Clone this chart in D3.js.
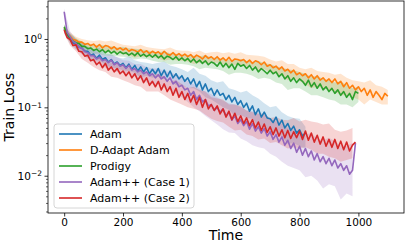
<!DOCTYPE html>
<html>
<head>
<meta charset="utf-8">
<script src="https://cdn.jsdelivr.net/npm/d3@7"></script>
<style>
  body { margin: 0; background: #fff; }
  text { font-family: "DejaVu Sans", sans-serif; fill: #000; }
</style>
</head>
<body>
<div id="chart"></div>
<script>
// sample spacing of each run (time units)
const step = 10;
const bandStep = 20;

const seriesNames = ["Adam", "D-Adapt Adam", "Prodigy", "Adam++ (Case 1)", "Adam++ (Case 2)"];
const colors = ["#1f77b4", "#ff7f0e", "#2ca02c", "#9467bd", "#d62728"];
const xTicks = [0, 200, 400, 600, 800, 1000];
const yTicks = [1e-2, 1e-1, 1];

// mean train loss, one value every 10 time units
const adam = [
  1.4,1.15,1.0,0.88,0.84,0.76,0.74,0.66,0.66,0.58,0.6,
  0.52,0.58,0.5,0.53,0.46,0.5,0.43,0.46,0.41,0.44,
  0.38,0.43,0.36,0.41,0.34,0.39,0.33,0.38,0.31,0.36,
  0.31,0.37,0.29,0.35,0.28,0.34,0.27,0.31,0.26,0.29,
  0.24,0.27,0.22,0.26,0.2,0.24,0.18,0.22,0.17,0.19,
  0.15,0.18,0.15,0.16,0.13,0.15,0.12,0.14,0.11,0.125,
  0.1,0.115,0.088,0.105,0.078,0.095,0.072,0.085,0.07,0.068,
  0.06,0.072,0.055,0.065,0.05,0.058,0.046,0.053,0.042,0.047,
  0.038,0.042
];
const dAdapt = [
  1.45,1.2,1.1,0.98,0.96,0.9,0.9,0.83,0.86,0.8,0.84,
  0.76,0.83,0.74,0.8,0.78,0.72,0.77,0.7,0.74,0.69,
  0.73,0.66,0.7,0.68,0.64,0.7,0.63,0.67,0.61,0.66,
  0.62,0.65,0.59,0.66,0.6,0.58,0.63,0.57,0.61,0.56,
  0.6,0.55,0.59,0.53,0.58,0.55,0.51,0.57,0.52,0.55,
  0.5,0.55,0.49,0.53,0.48,0.54,0.47,0.51,0.5,0.48,
  0.5,0.45,0.49,0.44,0.48,0.46,0.42,0.46,0.4,0.42,
  0.38,0.4,0.36,0.39,0.34,0.36,0.32,0.35,0.3,0.32,
  0.29,0.31,0.27,0.3,0.26,0.29,0.25,0.27,0.24,0.26,
  0.23,0.26,0.22,0.24,0.2,0.23,0.19,0.21,0.18,0.2,
  0.17,0.19,0.15,0.18,0.14,0.17,0.15,0.13,0.16,0.145
];
const prodigy = [
  1.5,1.18,1.04,0.93,0.88,0.86,0.78,0.78,0.72,0.74,0.68,
  0.71,0.65,0.7,0.63,0.68,0.62,0.66,0.6,0.65,0.61,
  0.63,0.58,0.62,0.57,0.63,0.56,0.6,0.55,0.59,0.54,
  0.59,0.53,0.57,0.51,0.56,0.54,0.5,0.55,0.49,0.53,
  0.48,0.52,0.46,0.51,0.45,0.49,0.44,0.48,0.42,0.46,
  0.44,0.4,0.46,0.39,0.44,0.38,0.43,0.36,0.44,0.4,
  0.42,0.37,0.41,0.35,0.39,0.33,0.37,0.34,0.31,0.35,
  0.31,0.33,0.28,0.31,0.26,0.29,0.24,0.27,0.23,0.26,
  0.24,0.21,0.25,0.2,0.23,0.19,0.22,0.18,0.2,0.17,
  0.19,0.16,0.18,0.15,0.17,0.14,0.16,0.13,0.17,0.16
];
const case1 = [
  2.5,1.25,1.08,0.92,0.86,0.76,0.73,0.65,0.63,0.57,0.57,
  0.51,0.54,0.48,0.5,0.45,0.49,0.42,0.45,0.4,0.42,
  0.37,0.41,0.35,0.37,0.33,0.35,0.31,0.33,0.29,0.31,
  0.27,0.3,0.26,0.28,0.24,0.27,0.22,0.24,0.2,0.21,
  0.18,0.19,0.15,0.17,0.13,0.15,0.12,0.13,0.105,0.11,
  0.09,0.1,0.085,0.095,0.075,0.085,0.065,0.075,0.058,0.066,
  0.054,0.062,0.048,0.058,0.045,0.052,0.042,0.049,0.038,0.044,
  0.034,0.04,0.031,0.037,0.028,0.033,0.025,0.03,0.022,0.027,
  0.02,0.025,0.019,0.023,0.017,0.021,0.016,0.019,0.015,0.018,
  0.014,0.017,0.013,0.015,0.012,0.014,0.0105,0.012,0.03
];
const case2 = [
  1.35,1.05,0.98,0.8,0.82,0.66,0.65,0.56,0.58,0.48,0.5,
  0.42,0.46,0.38,0.44,0.35,0.39,0.33,0.37,0.31,0.34,
  0.29,0.33,0.27,0.31,0.25,0.29,0.23,0.27,0.21,0.24,
  0.2,0.24,0.18,0.22,0.17,0.2,0.15,0.19,0.14,0.17,
  0.13,0.16,0.12,0.15,0.11,0.14,0.1,0.13,0.095,0.11,
  0.09,0.105,0.08,0.095,0.072,0.088,0.066,0.082,0.062,0.075,
  0.058,0.07,0.054,0.066,0.05,0.061,0.046,0.057,0.043,0.052,
  0.04,0.05,0.038,0.047,0.036,0.046,0.035,0.044,0.036,0.045,
  0.034,0.045,0.033,0.042,0.031,0.039,0.029,0.037,0.027,0.034,
  0.026,0.034,0.025,0.032,0.024,0.031,0.023,0.028,0.031
];

// shaded spread (low / high), one value every 20 time units
const adamLo = [1.2,0.85,0.70,0.61,0.54,0.49,0.48,0.42,0.38,0.37,0.35,0.34,0.32,0.27,0.29,0.27,0.28,0.26,0.25,0.21,0.21,0.19,0.19,0.17,0.14,0.13,0.115,0.10,0.092,0.075,0.077,0.07,0.068,0.052,0.051,0.044,0.041,0.037,0.029,0.03,0.027,0.025];
const adamHi = [1.6,1.2,0.98,0.86,0.77,0.70,0.75,0.61,0.60,0.54,0.52,0.56,0.49,0.46,0.45,0.43,0.45,0.47,0.41,0.39,0.36,0.33,0.38,0.31,0.29,0.25,0.23,0.24,0.19,0.18,0.165,0.175,0.15,0.135,0.115,0.10,0.105,0.085,0.075,0.07,0.068,0.052];
const dAdaptLo = [1.3,0.98,0.84,0.76,0.72,0.69,0.70,0.64,0.66,0.64,0.60,0.58,0.53,0.56,0.54,0.54,0.52,0.48,0.50,0.49,0.48,0.47,0.43,0.45,0.44,0.45,0.45,0.43,0.40,0.42,0.41,0.40,0.39,0.35,0.36,0.33,0.31,0.29,0.25,0.27,0.24,0.22,0.19,0.20,0.19,0.18,0.17,0.15,0.15,0.14,0.13,0.11,0.13,0.12,0.11,0.11];
const dAdaptHi = [1.6,1.25,1.08,1.0,0.96,0.93,0.96,0.92,0.95,0.88,0.82,0.80,0.78,0.82,0.76,0.74,0.72,0.71,0.75,0.69,0.67,0.67,0.64,0.68,0.62,0.64,0.65,0.62,0.64,0.61,0.64,0.59,0.58,0.57,0.55,0.50,0.47,0.49,0.43,0.43,0.38,0.36,0.38,0.34,0.33,0.32,0.30,0.31,0.27,0.25,0.24,0.23,0.25,0.21,0.20,0.18];
const prodigyLo = [1.35,0.92,0.78,0.70,0.64,0.61,0.61,0.57,0.57,0.56,0.55,0.54,0.50,0.52,0.51,0.48,0.46,0.46,0.42,0.43,0.43,0.42,0.40,0.36,0.38,0.37,0.36,0.34,0.30,0.32,0.32,0.31,0.29,0.26,0.27,0.26,0.23,0.22,0.18,0.19,0.19,0.17,0.15,0.15,0.14,0.13,0.125,0.11,0.11,0.10,0.12];
const prodigyHi = [1.65,1.2,1.03,0.92,0.85,0.81,0.83,0.79,0.78,0.75,0.77,0.73,0.72,0.71,0.69,0.65,0.64,0.66,0.62,0.61,0.60,0.59,0.57,0.56,0.58,0.54,0.53,0.51,0.50,0.49,0.51,0.48,0.46,0.48,0.44,0.43,0.40,0.38,0.36,0.35,0.33,0.31,0.28,0.29,0.26,0.25,0.23,0.24,0.21,0.19,0.20];
const case1Lo = [2.2,0.95,0.72,0.6,0.52,0.46,0.43,0.38,0.36,0.33,0.32,0.31,0.28,0.26,0.23,0.22,0.22,0.19,0.18,0.16,0.14,0.12,0.10,0.088,0.075,0.065,0.056,0.048,0.043,0.042,0.035,0.032,0.028,0.026,0.025,0.021,0.019,0.016,0.014,0.013,0.012,0.0095,0.01,0.0085,0.0065,0.0075,0.007,0.0045,0.0055,0.005];
const case1Hi = [2.8,1.3,1.0,0.86,0.75,0.68,0.63,0.57,0.58,0.54,0.49,0.48,0.43,0.43,0.39,0.37,0.37,0.34,0.33,0.30,0.28,0.24,0.22,0.19,0.17,0.155,0.14,0.125,0.115,0.11,0.1,0.09,0.088,0.08,0.077,0.068,0.062,0.057,0.05,0.047,0.044,0.04,0.042,0.035,0.033,0.036,0.032,0.028,0.027,0.03];
const case2Lo = [1.2,0.8,0.66,0.51,0.45,0.39,0.35,0.33,0.28,0.27,0.25,0.23,0.21,0.2,0.17,0.17,0.17,0.15,0.13,0.12,0.11,0.10,0.095,0.09,0.078,0.068,0.063,0.06,0.052,0.046,0.047,0.04,0.038,0.034,0.035,0.03,0.031,0.028,0.025,0.026,0.025,0.026,0.024,0.021,0.021,0.019,0.018,0.016,0.017,0.018];
const case2Hi = [1.5,1.1,0.95,0.75,0.66,0.58,0.53,0.52,0.45,0.43,0.41,0.38,0.36,0.35,0.33,0.3,0.31,0.28,0.24,0.25,0.22,0.19,0.2,0.18,0.17,0.14,0.135,0.13,0.11,0.11,0.105,0.09,0.085,0.082,0.08,0.07,0.072,0.066,0.065,0.07,0.062,0.066,0.062,0.06,0.056,0.058,0.047,0.044,0.046,0.05];

const means = [adam, dAdapt, prodigy, case1, case2];
const bands = [[adamLo, adamHi], [dAdaptLo, dAdaptHi], [prodigyLo, prodigyHi], [case1Lo, case1Hi], [case2Lo, case2Hi]];

const W = 407, H = 243;
const margin = { top: 1, right: 3, bottom: 30, left: 48 };

const svg = d3.select("#chart").append("svg")
  .attr("width", W).attr("height", H);

const X = d3.scaleLinear().domain([-55, 1155]).range([margin.left, W - margin.right]);
const Y = d3.scaleLog().domain([0.00285, 3.59]).range([H - margin.bottom, margin.top]);

const plot = svg.append("g");
plot.append("clipPath").attr("id", "clip").append("rect")
  .attr("x", margin.left).attr("y", margin.top)
  .attr("width", W - margin.left - margin.right)
  .attr("height", H - margin.top - margin.bottom);
const inner = plot.append("g").attr("clip-path", "url(#clip)");

// bands first, then lines on top
bands.forEach(([lo, hi], i) => {
  const pts = lo.map((v, j) => ({ t: j * bandStep, lo: v, hi: hi[j] }));
  inner.append("path")
    .datum(pts)
    .attr("fill", colors[i])
    .attr("fill-opacity", 0.2)
    .attr("stroke", "none")
    .attr("d", d3.area().x((d) => X(d.t)).y0((d) => Y(d.lo)).y1((d) => Y(d.hi)));
});

means.forEach((vals, i) => {
  inner.append("path")
    .datum(vals)
    .attr("fill", "none")
    .attr("stroke", colors[i])
    .attr("stroke-width", 1.6)
    .attr("stroke-linejoin", "round")
    .attr("d", d3.line().x((d, j) => X(j * step)).y((d) => Y(d)));
});

// axes
const xAxis = svg.append("g")
  .attr("transform", `translate(0,${H - margin.bottom})`)
  .call(d3.axisBottom(X).tickValues(xTicks).tickSize(3.5).tickPadding(2.5).tickFormat(d3.format("d")));
xAxis.select(".domain").remove();
xAxis.selectAll("text").style("font-size", "10.5px").attr("font-family", "DejaVu Sans");
xAxis.selectAll("line").attr("stroke", "#000").attr("stroke-width", 0.8);

const minor = Y.ticks().filter((d) => yTicks.indexOf(d) < 0);
const yMinor = svg.append("g")
  .attr("transform", `translate(${margin.left},0)`)
  .call(d3.axisLeft(Y).tickValues(minor).tickSize(2).tickFormat(""));
yMinor.select(".domain").remove();
yMinor.selectAll("line").attr("stroke", "#000").attr("stroke-width", 0.6);

const yAxis = svg.append("g")
  .attr("transform", `translate(${margin.left},0)`)
  .call(d3.axisLeft(Y).tickValues(yTicks).tickSize(3.5).tickPadding(3).tickFormat(""));
yAxis.select(".domain").remove();
yAxis.selectAll("line").attr("stroke", "#000").attr("stroke-width", 0.8);
yAxis.selectAll(".tick").each(function (d) {
  const t = d3.select(this).select("text")
    .attr("x", -6).attr("dy", "0.32em")
    .style("font-size", "10.5px").attr("text-anchor", "end");
  t.text("");
  t.append("tspan").text("10");
  t.append("tspan").attr("dy", "-0.45em").style("font-size", "7.5px")
    .text(String(Math.round(Math.log10(d))).replace("-", "\u2212"));
});

// frame
svg.append("rect")
  .attr("x", margin.left).attr("y", margin.top)
  .attr("width", W - margin.left - margin.right)
  .attr("height", H - margin.top - margin.bottom)
  .attr("fill", "none").attr("stroke", "#000").attr("stroke-width", 0.8);

svg.append("text")
  .attr("x", (margin.left + W - margin.right) / 2).attr("y", 240)
  .attr("text-anchor", "middle").style("font-size", "14px")
  .text("Time");
svg.append("text")
  .attr("transform", `translate(13.5,${(margin.top + H - margin.bottom) / 2}) rotate(-90)`)
  .attr("text-anchor", "middle").style("font-size", "14px")
  .text("Train Loss");

// legend
const lg = svg.append("g").attr("transform", "translate(54,124)");
lg.append("rect")
  .attr("width", 140).attr("height", 84).attr("rx", 3)
  .attr("fill", "#fff").attr("fill-opacity", 0.8)
  .attr("stroke", "#ccc").attr("stroke-width", 0.8);
seriesNames.forEach((name, i) => {
  const y = 10 + i * 16;
  lg.append("line")
    .attr("x1", 5).attr("x2", 28).attr("y1", y).attr("y2", y)
    .attr("stroke", colors[i]).attr("stroke-width", 1.6);
  lg.append("text")
    .attr("x", 36).attr("y", y).attr("dy", "0.35em")
    .style("font-size", "11px")
    .text(name);
});
</script>
</body>
</html>
